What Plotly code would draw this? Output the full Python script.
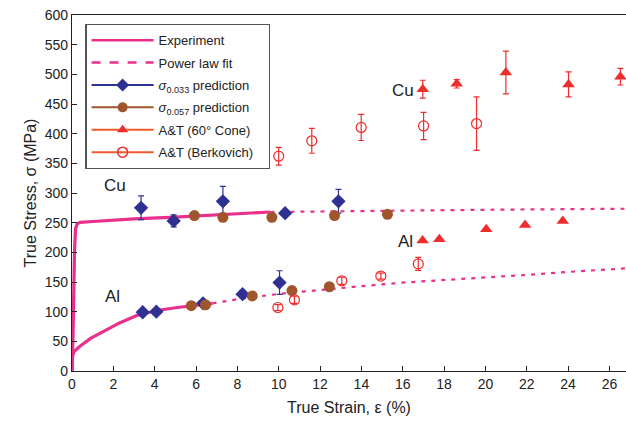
import plotly.graph_objects as go

# ---------------- data ----------------
# Experiment curves (solid)
cu_exp_x = [0, 0.05, 0.12, 0.17, 0.25, 0.4, 1.0, 3.0, 5.0, 7.0, 9.6]
cu_exp_y = [0, 60, 200, 240, 248, 250.5, 252, 256.5, 259.5, 263, 268]
al_exp_x = [0, 0.03, 0.1, 0.4, 0.9, 1.5, 2.3, 3.1, 4.1, 5.1, 6.0, 6.8]
al_exp_y = [0, 25, 33, 42, 55, 66, 81, 93, 102, 107, 110, 114]

# Power law fit (dashed)
cu_fit_x = [9.6, 12, 15, 18, 21, 24, 26.8]
cu_fit_y = [268, 268.5, 270, 271, 272, 272.5, 273.5]
al_fit_x = [6.8, 8, 10, 12, 14, 16, 18, 20, 22, 24, 26.8]
al_fit_y = [114, 121, 130, 137, 143, 149, 153, 158, 162, 167, 173]

# sigma_0.033 prediction
cu_033_x = [3.34, 4.92, 7.30, 10.31, 12.89]
cu_033_y = [275, 253, 286, 266, 286]
cu_033_e = [20, 10, 25, 3, 20]
al_033_x = [3.42, 4.08, 6.34, 8.25, 10.04]
al_033_y = [99, 100, 114, 129.5, 149]
al_033_e = [3, 3, 4, 6, 20]

# sigma_0.057 prediction
cu_057_x = [5.92, 7.30, 9.67, 12.70, 15.26]
cu_057_y = [262, 259, 259, 262, 264]
al_057_x = [5.77, 6.46, 8.72, 10.64, 12.45]
al_057_y = [110, 111.5, 126.5, 135.5, 142]

# A&T (60 deg cone)
cu_cone_x = [16.97, 18.61, 20.99, 24.02, 26.53]
cu_cone_y = [475, 484, 503, 483, 496]
cu_cone_e = [15, 7, 36, 21, 14]
al_cone_x = [16.96, 17.77, 20.04, 21.92, 23.74]
al_cone_y = [220, 222, 239, 246, 253]

# A&T (Berkovich)
cu_berk_x = [10.0, 11.6, 13.99, 17.01, 19.57]
cu_berk_y = [362, 388, 410.5, 413, 417]
cu_berk_e = [15, 21, 22, 23, 45]
al_berk_x = [9.96, 10.76, 13.05, 14.94, 16.75]
al_berk_y = [107, 120, 152, 160, 180.5]
al_berk_e = [5, 6, 6, 5, 11]

x_ticks = list(range(0, 27, 2))
y_ticks = list(range(0, 601, 50))

# ---------------- style ----------------
PINK = "#E8308C"
NAVY = "#2E3192"
BROWN = "#A0562C"
RED = "#EE2D2D"
ORANGE = "#F15A30"
FONT = "Liberation Sans, Arial, sans-serif"

fig = go.Figure()

# experiment curves
fig.add_trace(go.Scatter(x=cu_exp_x, y=cu_exp_y, mode="lines",
                         line=dict(color=PINK, width=3.2), showlegend=False, hoverinfo="skip"))
fig.add_trace(go.Scatter(x=al_exp_x, y=al_exp_y, mode="lines",
                         line=dict(color=PINK, width=3.2), showlegend=False, hoverinfo="skip"))
# power-law fits
fig.add_trace(go.Scatter(x=cu_fit_x, y=cu_fit_y, mode="lines",
                         line=dict(color=PINK, width=2.2, dash="4px,6px"), showlegend=False))
fig.add_trace(go.Scatter(x=al_fit_x, y=al_fit_y, mode="lines",
                         line=dict(color=PINK, width=2.2, dash="4px,6px"), showlegend=False))

def err(arr, color):
    return dict(type="data", array=arr, visible=True, color=color, thickness=1.2, width=3)

# sigma 0.033
fig.add_trace(go.Scatter(x=cu_033_x, y=cu_033_y, mode="markers", error_y=err(cu_033_e, NAVY),
                         marker=dict(symbol="diamond", size=11, color=NAVY), showlegend=False))
fig.add_trace(go.Scatter(x=al_033_x, y=al_033_y, mode="markers", error_y=err(al_033_e, NAVY),
                         marker=dict(symbol="diamond", size=11, color=NAVY), showlegend=False))
# sigma 0.057
fig.add_trace(go.Scatter(x=cu_057_x, y=cu_057_y, mode="markers",
                         marker=dict(symbol="circle", size=11, color=BROWN), showlegend=False))
fig.add_trace(go.Scatter(x=al_057_x, y=al_057_y, mode="markers",
                         marker=dict(symbol="circle", size=11, color=BROWN), showlegend=False))
# cone
fig.add_trace(go.Scatter(x=cu_cone_x, y=cu_cone_y, mode="markers", error_y=err(cu_cone_e, RED),
                         marker=dict(symbol="triangle-up", size=11, color=RED), showlegend=False))
fig.add_trace(go.Scatter(x=al_cone_x, y=al_cone_y, mode="markers",
                         marker=dict(symbol="triangle-up", size=11, color=RED), showlegend=False))
# berkovich
fig.add_trace(go.Scatter(x=cu_berk_x, y=cu_berk_y, mode="markers", error_y=err(cu_berk_e, RED),
                         marker=dict(symbol="circle-open", size=10, color=RED, line=dict(width=1.2)),
                         showlegend=False))
fig.add_trace(go.Scatter(x=al_berk_x, y=al_berk_y, mode="markers", error_y=err(al_berk_e, RED),
                         marker=dict(symbol="circle-open", size=10, color=RED, line=dict(width=1.2)),
                         showlegend=False))

# legend entries (each in its own group so tracegroupgap spaces the rows)
fig.add_trace(go.Scatter(x=[None], y=[None], mode="lines", name="Experiment", legendgroup="g1",
                         line=dict(color=PINK, width=2.5)))
fig.add_trace(go.Scatter(x=[None], y=[None], mode="lines", name="Power law fit", legendgroup="g2",
                         line=dict(color=PINK, width=2.5, dash="dash")))
fig.add_trace(go.Scatter(x=[None], y=[None], mode="lines+markers", legendgroup="g3",
                         name="<i>σ</i><sub>0.033</sub> prediction",
                         line=dict(color=NAVY, width=2), marker=dict(symbol="diamond", size=10, color=NAVY)))
fig.add_trace(go.Scatter(x=[None], y=[None], mode="lines+markers", legendgroup="g4",
                         name="<i>σ</i><sub>0.057</sub> prediction",
                         line=dict(color=BROWN, width=2), marker=dict(symbol="circle", size=10, color=BROWN)))
fig.add_trace(go.Scatter(x=[None], y=[None], mode="lines+markers", name="A&T (60° Cone)", legendgroup="g5",
                         line=dict(color=ORANGE, width=2), marker=dict(symbol="triangle-up", size=10, color=RED)))
fig.add_trace(go.Scatter(x=[None], y=[None], mode="lines+markers", legendgroup="g6",
                         name="A&T (Berkovich)&nbsp;&nbsp;&nbsp;",
                         line=dict(color=ORANGE, width=2),
                         marker=dict(symbol="circle-open", size=10, color=RED, line=dict(width=1.5))))

ann_font = dict(family=FONT, size=17, color="#222")
for txt, ax, ay in [("Cu", 2.1, 313), ("Al", 1.97, 125), ("Cu", 16.0, 472), ("Al", 16.15, 218)]:
    fig.add_annotation(x=ax, y=ay, text=txt, showarrow=False, font=ann_font)

fig.update_layout(
    width=626, height=427,
    margin=dict(l=72, r=0, t=15, b=56),
    paper_bgcolor="white", plot_bgcolor="white",
    font=dict(family=FONT, size=14, color="#222"),
    showlegend=True,
    legend=dict(x=0.024, y=0.975, xanchor="left", yanchor="top",
                bordercolor="#555", borderwidth=1.3, bgcolor="white",
                font=dict(family=FONT, size=13, color="#222"),
                tracegroupgap=2.5, itemwidth=62),
    xaxis=dict(range=[0, 26.8], tickvals=x_ticks, ticks="inside", ticklen=5, tickcolor="#222",
               showline=True, linecolor="#222", linewidth=1.3, mirror=True,
               showgrid=False, zeroline=False,
               title=dict(text="True Strain, ε (%)", font=dict(size=16), standoff=10),
               tickfont=dict(size=14)),
    yaxis=dict(range=[0, 600], tickvals=y_ticks, ticks="inside", ticklen=5, tickcolor="#222",
               showline=True, linecolor="#222", linewidth=1.3,
               showgrid=False, zeroline=False,
               title=dict(text="True Stress, σ (MPa)", font=dict(size=16), standoff=4),
               tickfont=dict(size=14)),
)

fig.write_html("out.html")
